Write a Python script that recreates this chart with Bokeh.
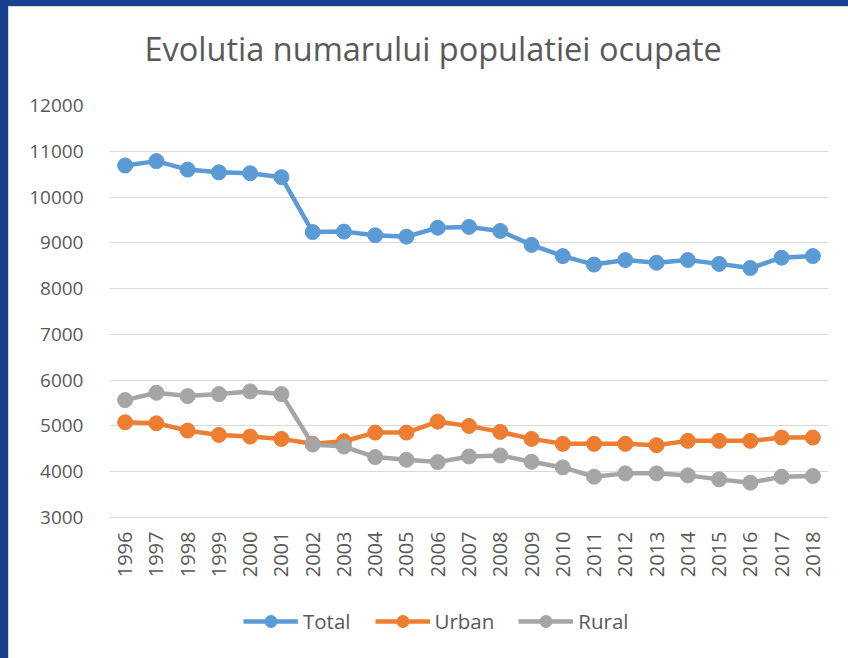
from bokeh.plotting import figure
from bokeh.layouts import column
from bokeh.models import FactorRange, Range1d, FixedTicker, Legend, LegendItem, Label, ColumnDataSource
from bokeh.embed import file_html
from bokeh.resources import INLINE
import math

years = [str(y) for y in range(1996, 2019)]
total = [10690, 10785, 10600, 10540, 10520, 10435, 9235, 9245, 9165, 9135, 9330, 9348,
         9260, 8955, 8710, 8525, 8624, 8565, 8624, 8540, 8450, 8675, 8711]
urban = [5080, 5058, 4898, 4804, 4768, 4717, 4609, 4665, 4855, 4855, 5094, 5000,
         4870, 4717, 4609, 4609, 4609, 4580, 4674, 4674, 4674, 4746, 4746]
rural = [5565, 5724, 5652, 5696, 5754, 5696, 4594, 4550, 4320, 4261, 4210, 4333,
         4355, 4218, 4094, 3891, 3964, 3964, 3920, 3833, 3761, 3891, 3906]
y_ticks = [3000, 4000, 5000, 6000, 7000, 8000, 9000, 10000, 11000, 12000]
series_names = ["Total", "Urban", "Rural"]
colors = ["#5B9BD5", "#ED7D31", "#A5A5A5"]
chart_title = "Evolutia numarului populatiei ocupate"

TXT = "#595959"
FONT = "Open Sans"
W = 839

def strip(h):
    f = figure(width=W, height=h, x_range=Range1d(0, 719), y_range=Range1d(0, h),
               x_axis_type=None, y_axis_type=None, output_backend="svg",
               toolbar_location=None, min_border=0)
    f.outline_line_color = None
    f.grid.visible = False
    f.background_fill_color = "white"
    f.border_fill_color = "white"
    return f

# title strip
t = strip(79)
t.add_layout(Label(x=35, y=38, text=chart_title, text_font=FONT, text_font_size="32.5px",
                   text_color=TXT, text_baseline="alphabetic", text_align="left"))

# main chart
p = figure(frame_width=719, frame_height=412, x_range=FactorRange(*years, range_padding=0),
           y_range=Range1d(3000, 12000), output_backend="svg", toolbar_location=None,
           min_border_left=100, min_border_right=20, min_border_top=19, min_border_bottom=80)
p.outline_line_color = None
p.background_fill_color = "white"
p.border_fill_color = "white"

src = ColumnDataSource(dict(x=years, Total=total, Urban=urban, Rural=rural))
for name, c in zip(series_names, colors):
    p.line("x", name, source=src, line_color=c, line_width=4.5)
    p.scatter("x", name, source=src, size=15, fill_color=c, line_color=c)

p.xgrid.visible = False
p.ygrid.grid_line_color = "#D9D9D9"
p.ygrid.grid_line_width = 1
p.yaxis.ticker = FixedTicker(ticks=y_ticks)
p.yaxis.axis_line_color = None
p.yaxis.major_tick_line_color = None
p.yaxis.minor_tick_line_color = None
p.yaxis.major_label_text_font = FONT
p.yaxis.major_label_text_font_size = "19px"
p.yaxis.major_label_text_color = TXT
p.yaxis.major_label_standoff = 20

p.xaxis.axis_line_color = "#D9D9D9"
p.xaxis.major_tick_line_color = None
p.xaxis.minor_tick_line_color = None
p.xaxis.major_label_orientation = math.pi / 2
p.xaxis.major_label_text_font = FONT
p.xaxis.major_label_text_font_size = "20px"
p.xaxis.major_label_text_color = TXT
p.xaxis.major_label_standoff = 8

# legend strip
q = strip(61)
items = []
for name, c in zip(series_names, colors):
    l = q.line([-50, -40], [-50, -50], line_color=c, line_width=4.5)
    s = q.scatter([-45], [-50], size=13, fill_color=c, line_color=c)
    items.append(LegendItem(label=name, renderers=[l, s]))
legend = Legend(items=items, orientation="horizontal", location=(134, 22),
                label_text_font=FONT, label_text_font_size="20.5px", label_text_color=TXT,
                glyph_width=55, glyph_height=30, spacing=24, label_standoff=5,
                border_line_color=None, background_fill_alpha=0, margin=0, padding=6)
q.add_layout(legend, "center")

layout = column(t, p, q, spacing=0)

html = file_html(layout, INLINE)
css = ("<style>html,body{margin:0;padding:0;background:#ffffff;}"
       "body{border-top:6px solid #17408f;border-left:8px solid #17408f;"
       "padding:1px 0 0 1px;box-shadow:inset 1px 1px 0 #d4d4d4;}</style>")
html = html.replace("</head>", css + "</head>", 1)
open("out.html", "w").write(html)
